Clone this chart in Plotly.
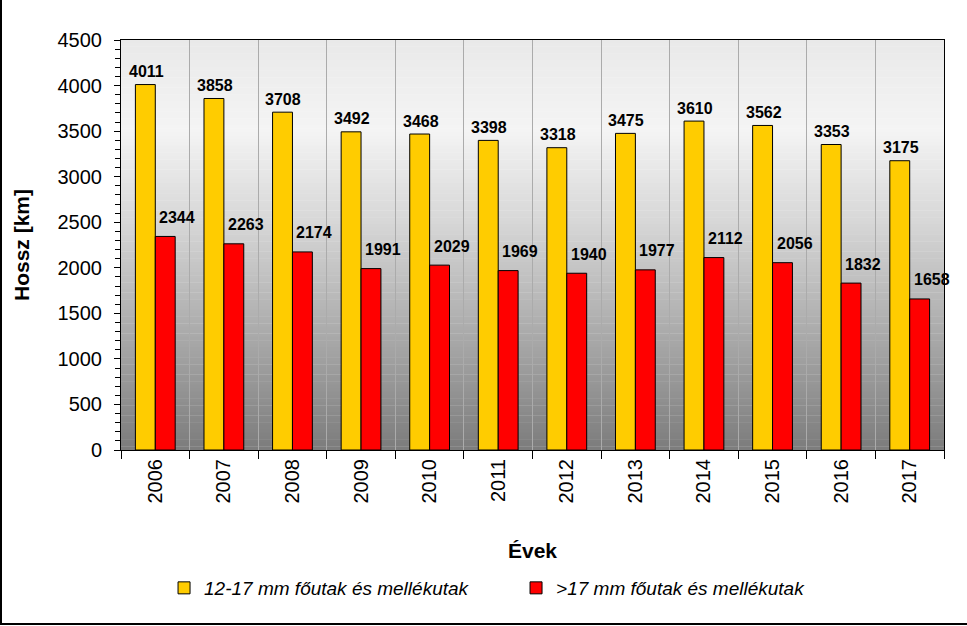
import plotly.graph_objects as go

years = ["2006", "2007", "2008", "2009", "2010", "2011", "2012", "2013", "2014", "2015", "2016", "2017"]
s1_name = "12-17 mm főutak és mellékutak"
s2_name = ">17 mm főutak és mellékutak"
s1_vals = [4011, 3858, 3708, 3492, 3468, 3398, 3318, 3475, 3610, 3562, 3353, 3175]
s2_vals = [2344, 2263, 2174, 1991, 2029, 1969, 1940, 1977, 2112, 2056, 1832, 1658]

W, H = 967, 626
L, R, T, B = 121, 23, 40, 176
PW, PH = W - L - R, H - T - B
FONT = "Arial, Liberation Sans, sans-serif"

fig = go.Figure()
fig.add_trace(go.Bar(x=years, y=s1_vals, name=s1_name,
                     marker=dict(color="#FFCC00", line=dict(color="black", width=1))))
fig.add_trace(go.Bar(x=years, y=s2_vals, name=s2_name,
                     marker=dict(color="#FF0000", line=dict(color="black", width=1))))

# gradient background as horizontal bands (style only)
stops = [(0.0, 0xE9), (0.22, 0xF4), (0.45, 0xD6), (1.0, 0x7C)]
def grey(t):
    for (a, ca), (b, cb) in zip(stops[:-1], stops[1:]):
        if a <= t <= b:
            f = (t - a) / (b - a)
            return int(round(ca + (cb - ca) * f))
    return stops[-1][1]
shapes = []
N = 120
for i in range(N):
    t0, t1 = i / N, (i + 1) / N
    g = grey((t0 + t1) / 2)
    shapes.append(dict(type="rect", xref="x domain", yref="y domain",
                       x0=0, x1=1, y0=1 - t1, y1=1 - t0 + 0.001,
                       fillcolor=f"rgb({g},{g},{g})", line=dict(width=0), layer="below"))

def px_x(p): return (p - L) / PW
def px_y(p): return (H - B - p) / PH
# figure frame (left and bottom)
shapes.append(dict(type="line", xref="paper", yref="paper", x0=px_x(1), x1=px_x(1),
                   y0=px_y(0), y1=px_y(624), line=dict(color="black", width=2)))
shapes.append(dict(type="line", xref="paper", yref="paper", x0=px_x(0), x1=px_x(970),
                   y0=px_y(624), y1=px_y(624), line=dict(color="black", width=2)))

annotations = []
for i, v in enumerate(s1_vals):
    annotations.append(dict(x=i, y=v, text="<b>%d</b>" % v, showarrow=False, xshift=-9, yshift=13,
                            yanchor="middle", font=dict(family=FONT, size=16, color="black"),
                            xref="x", yref="y"))
for i, v in enumerate(s2_vals):
    annotations.append(dict(x=i, y=v, text="<b>%d</b>" % v, showarrow=False, xshift=22, yshift=19,
                            yanchor="middle", font=dict(family=FONT, size=16, color="black"),
                            xref="x", yref="y"))

fig.update_layout(
    width=W, height=H,
    margin=dict(l=L, r=R, t=T, b=B, autoexpand=False),
    paper_bgcolor="white", plot_bgcolor="rgba(0,0,0,0)",
    barmode="group", bargap=0.42, bargroupgap=0,
    font=dict(family=FONT, color="black"),
    shapes=shapes, annotations=annotations,
    showlegend=True,
    legend=dict(orientation="h", x=0.48, xanchor="center", y=px_y(588), yanchor="middle",
                font=dict(family=FONT, size=19, style="italic"),
                entrywidth=307, entrywidthmode="pixels", bgcolor="rgba(0,0,0,0)"),
)
fig.update_xaxes(type="category", categoryorder="array", categoryarray=years,
                 range=[-0.5, len(years) - 0.5],
                 tickson="boundaries", showgrid=True, gridcolor="#ABABAB",
                 gridwidth=1, ticks="outside", ticklen=8, tickcolor="black",
                 showline=True, linecolor="black", linewidth=1, mirror=True,
                 tickangle=-90, tickfont=dict(family=FONT, size=20),
                 title=dict(text="<b>Évek</b>", font=dict(family=FONT, size=21), standoff=40),
                 automargin=False)
fig.update_yaxes(range=[0, 4500], dtick=500, tick0=0, showgrid=False, zeroline=False,
                 ticks="outside", ticklen=6, tickcolor="black",
                 minor=dict(dtick=100, ticks="outside", ticklen=5, tickcolor="black", showgrid=False),
                 showline=True, linecolor="black", linewidth=1, mirror=True,
                 tickfont=dict(family=FONT, size=20), ticklabelstandoff=8,
                 title=dict(text="<b>Hossz [km]</b>", font=dict(family=FONT, size=21), standoff=22),
                 automargin=False)

fig.write_html("out.html", config={"displayModeBar": False},
               post_script="document.body.style.margin='0';")
